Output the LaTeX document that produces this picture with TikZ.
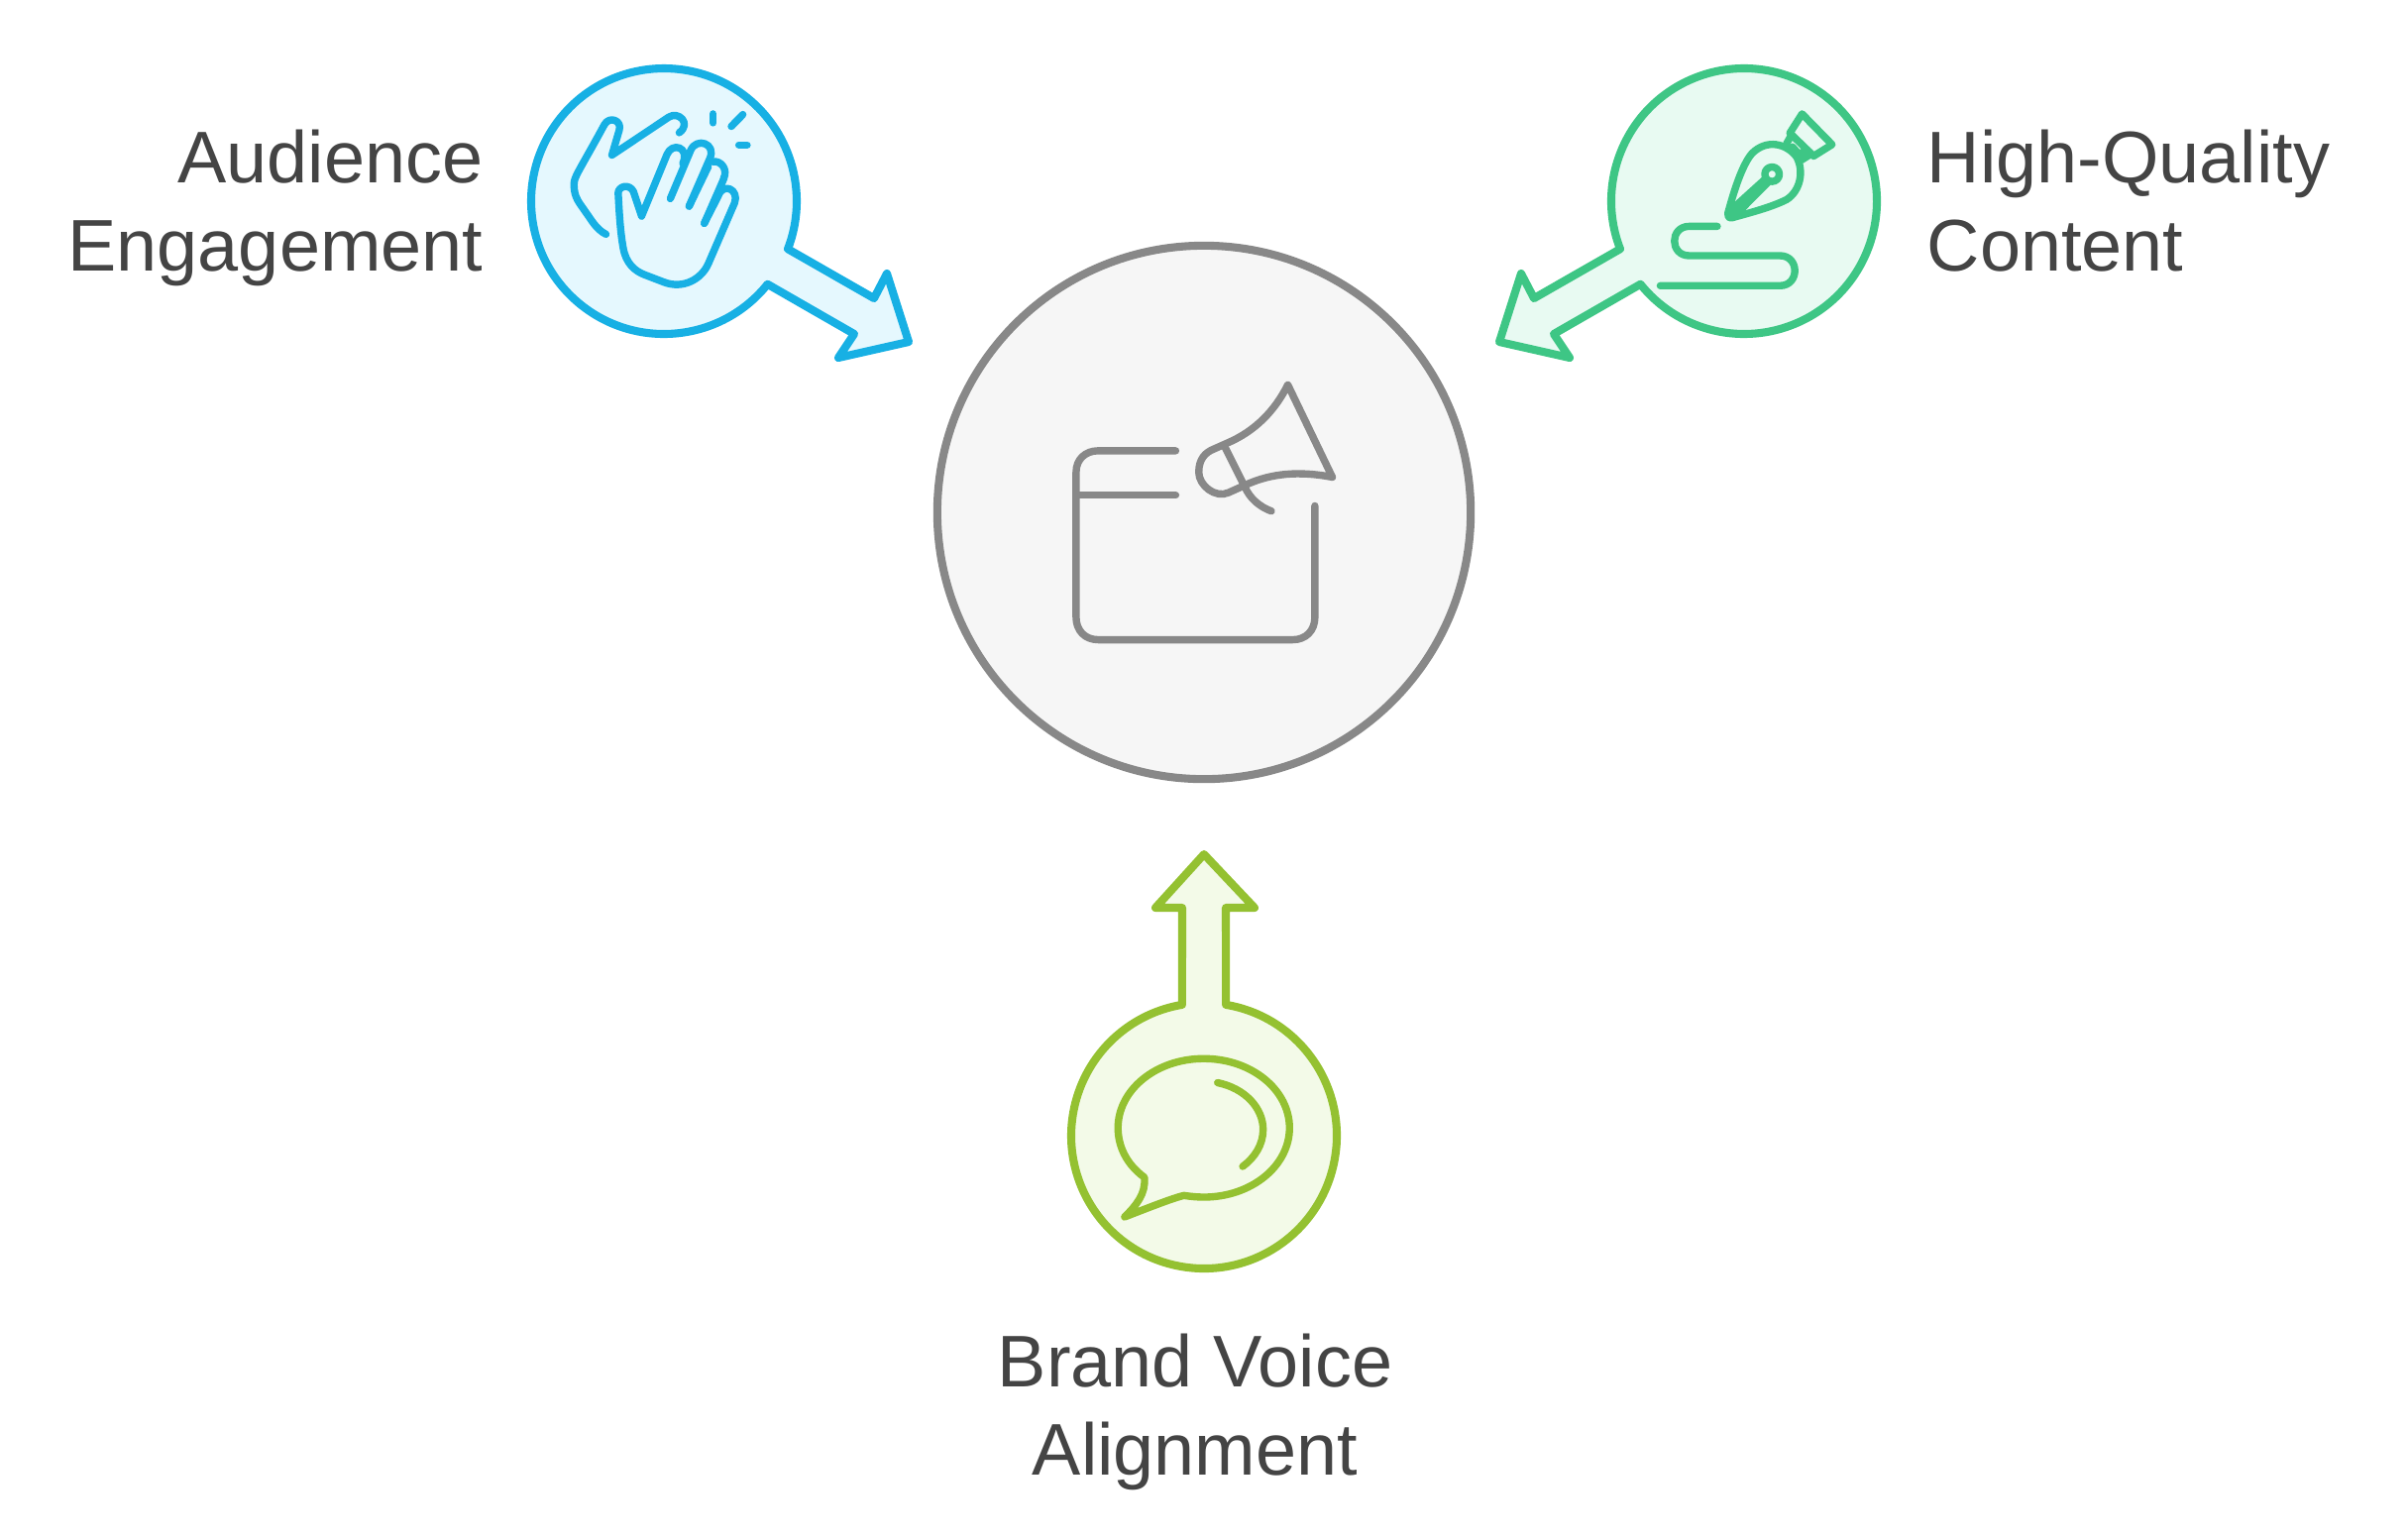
\documentclass[tikz,border=0pt]{standalone}
\usepackage{fontspec}
\setmainfont{Liberation Sans}
\usepackage{xcolor}
\definecolor{blueline}{HTML}{17B0E4}
\definecolor{bluefill}{HTML}{E5F8FE}
\definecolor{greenline}{HTML}{3EC685}
\definecolor{greenfill}{HTML}{E8FAF2}
\definecolor{limeline}{HTML}{94C131}
\definecolor{limefill}{HTML}{F3FAE8}
\definecolor{grayline}{HTML}{888888}
\definecolor{grayfill}{HTML}{F6F6F6}
\definecolor{labelgray}{HTML}{444444}
\tikzset{
  outline/.style={line width=2.3pt,line join=round,line cap=round},
  icon/.style={line width=2.1pt,line join=round,line cap=round,x=0.003333cm,y=-0.003333cm},
  labeltext/.style={font=\fontsize{21}{25.3}\selectfont,text=labelgray,inner sep=0pt}
}
\begin{document}
\begin{tikzpicture}[x=0.01cm,y=-0.01cm]
    \useasboundingbox (0,0) rectangle (2430,1553);
    \coordinate (audience) at (670,203);
    \coordinate (content) at (1760,203);
    \coordinate (voice) at (1215,1146);

    % Centre
    \node[circle,draw=grayline,fill=grayfill,line width=2.3pt,minimum size=5.38cm,inner sep=0pt] (brand) at (1215,517) {};
    \begin{scope}[shift={(1040,360)},icon,draw=grayline]
        \draw (440,285) -- (205,285) .. controls (165,285) and (138,312) .. (138,350) -- (138,790) .. controls (138,830) and (165,858) .. (205,858) -- (795,858) .. controls (835,858) and (862,830) .. (862,790) -- (862,452);
        \draw (138,420) -- (440,420);
        \draw (780,85) -- (915,365) .. controls (810,345) and (730,355) .. (660,385) -- (600,412) .. controls (560,430) and (510,390) .. (510,350) .. controls (510,310) and (530,290) .. (555,280) -- (600,260) .. controls (680,225) and (740,165) .. (780,85);
        \draw (590,275) -- (650,395) .. controls (665,430) and (695,455) .. (730,468);
    \end{scope}

    % Audience
    \draw[outline,draw=blueline,fill=bluefill] (audience) ++(38.7:134) arc[start angle=38.7,end angle=381.1,radius=134] -- (882,301) -- (895,276) -- (917,345) -- (846,361) -- (862,337) -- cycle;
    \begin{scope}[shift={(520,50)},icon,draw=blueline]
        \draw (275,560) .. controls (245,545) and (230,515) .. (215,495) .. controls (195,465) and (178,450) .. (178,410) .. controls (178,385) and (190,375) .. (270,228) .. controls (285,200) and (325,215) .. (315,245) -- (293,320) -- (465,205) .. controls (495,185) and (535,225) .. (497,252);
        \draw (383,505) -- (358,430) .. controls (345,405) and (312,415) .. (312,435) .. controls (315,490) and (318,550) .. (327,600) .. controls (335,650) and (365,672) .. (390,682) -- (450,705) .. controls (510,728) and (565,695) .. (585,650) -- (665,465) .. controls (680,425) and (630,400) .. (615,445) -- (573,527);
        \draw (383,505) -- (460,318) .. controls (475,280) and (530,295) .. (508,345);
        \draw (470,452) -- (532,305) .. controls (550,265) and (610,285) .. (590,330) -- (527,475);
        \draw (598,340) .. controls (625,335) and (645,365) .. (632,390);
        \draw (527,475) -- (585,355);
        \draw (573,527) -- (633,390);
        \draw (600,195) -- (600,222);
        \draw (690,197) -- (655,233);
        \draw (678,289) -- (703,289);
    \end{scope}
    \node[labeltext,align=right,anchor=base east] (audiencelabel) at (488,273) {Audience\\Engagement};

    % Content
    \draw[outline,draw=greenline,fill=greenfill] (content) ++(158.9:134) arc[start angle=158.9,end angle=501.3,radius=134] -- (1568,337) -- (1584,361) -- (1513,345) -- (1535,276) -- (1548,301) -- cycle;
    \begin{scope}[shift={(1520,50)},icon,draw=greenline]
        \draw (897,195) -- (988,288) -- (932,323) -- (860,253) -- cycle;
        \draw (850,285) -- (863,262);
        \draw (895,335) -- (922,318);
        \draw (868,295) -- (888,318) -- (912,303);
        \draw (672,497) .. controls (690,430) and (715,350) .. (745,315) .. controls (790,270) and (850,285) .. (880,325) .. controls (905,370) and (890,430) .. (850,455) .. controls (800,480) and (730,497) .. (685,510) .. controls (675,512) and (670,505) .. (672,497) -- cycle;
        \draw (806,378) circle[radius=22];
        \draw (678,490) -- (785,393);
        \draw (692,505) -- (793,403);
        \draw (640,536) -- (555,536) .. controls (495,536) and (495,625) .. (555,625) -- (830,625) .. controls (890,625) and (890,716) .. (830,716) -- (467,716);
    \end{scope}
    \node[labeltext,align=left,anchor=base west] (contentlabel) at (1944,273) {High-Quality\\Content};

    % Voice
    \draw[outline,draw=limeline,fill=limefill] (voice) ++(279.5:134) arc[start angle=279.5,end angle=620.5,radius=134] -- (1193,916) -- (1166,916) -- (1215,862) -- (1266,916) -- (1237,916) -- cycle;
    \begin{scope}[shift={(1060,1000)},icon,draw=limeline]
        \draw (285,565) .. controls (230,525) and (205,470) .. (205,415) .. controls (205,300) and (320,205) .. (465,205) .. controls (610,205) and (725,300) .. (725,415) .. controls (725,530) and (610,625) .. (465,625) .. controls (445,625) and (425,623) .. (405,620) .. controls (370,628) and (290,660) .. (225,685) .. controls (260,650) and (290,615) .. (285,565) -- cycle;
        \draw (507,278) .. controls (590,295) and (645,355) .. (645,420) .. controls (645,465) and (620,505) .. (583,532);
    \end{scope}
    \node[labeltext,align=center,anchor=base] (voicelabel) at (1206,1488) {Brand Voice\\Alignment};
\end{tikzpicture}
\end{document}
